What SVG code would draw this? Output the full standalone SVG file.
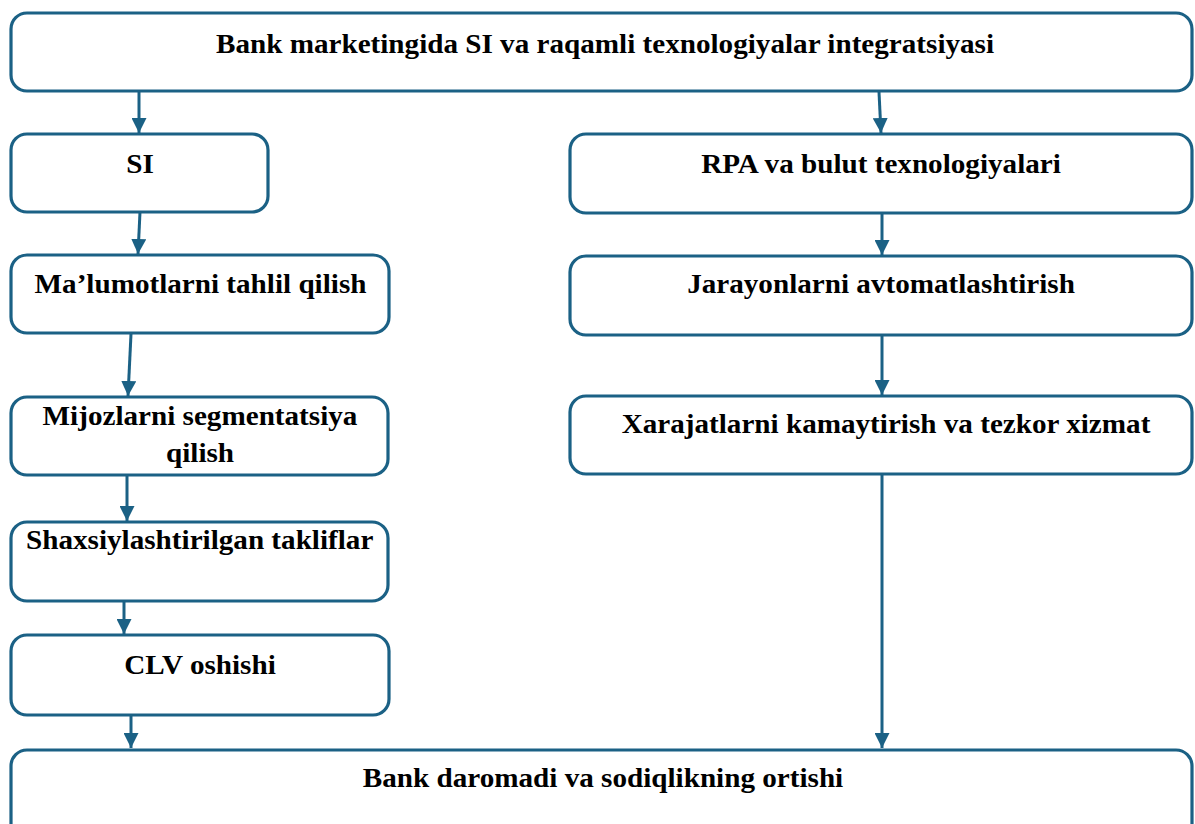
<svg xmlns="http://www.w3.org/2000/svg" width="1195" height="824" viewBox="0 0 1195 824">
<style>
.box{fill:#ffffff;stroke:#1b6185;stroke-width:3.2}
.lbl{font-family:"Liberation Serif","Times New Roman",serif;font-weight:bold;font-size:26.5px;fill:#000;text-anchor:middle}
.con{stroke:#1b6185;stroke-width:3;fill:none;marker-end:url(#ah)}
</style>
<defs>
<marker id="ah" viewBox="0 0 10 10" refX="10" refY="5" markerWidth="5" markerHeight="5" markerUnits="strokeWidth" orient="auto">
<path d="M0,0 L10,5 L0,10 Z" fill="#1b6185"/>
</marker>
</defs>
<rect width="1195" height="824" fill="#ffffff"/>
<g id="connectors">
<line class="con" x1="139" y1="92" x2="139" y2="133"/>
<line class="con" x1="879" y1="92" x2="881" y2="133"/>
<line class="con" x1="140" y1="212" x2="138" y2="254"/>
<line class="con" x1="131" y1="334" x2="128" y2="396"/>
<line class="con" x1="127" y1="476" x2="127" y2="521"/>
<line class="con" x1="124" y1="602" x2="124" y2="634"/>
<line class="con" x1="131" y1="716" x2="131" y2="748"/>
<line class="con" x1="882" y1="214" x2="882" y2="255"/>
<line class="con" x1="882" y1="336" x2="882" y2="395"/>
<line class="con" x1="882" y1="475" x2="882" y2="748"/>
</g>
<g id="n_top">
<rect class="box" x="11" y="13" width="1181" height="78" rx="16"/>
<text class="lbl" transform="translate(605,52.7) scale(1.1,1)">Bank marketingida SI va raqamli texnologiyalar integratsiyasi</text>
</g>
<g id="n_si">
<rect class="box" x="11" y="134" width="257" height="78" rx="16"/>
<text class="lbl" transform="translate(140,173) scale(1.1,1)">SI</text>
</g>
<g id="n_malumot">
<rect class="box" x="11" y="255" width="378" height="78" rx="16"/>
<text class="lbl" transform="translate(200.5,293.3) scale(1.1,1)">Ma’lumotlarni tahlil qilish</text>
</g>
<g id="n_mijoz">
<rect class="box" x="11" y="397" width="377" height="78" rx="16"/>
<text class="lbl" transform="translate(200,425) scale(1.1,1)">Mijozlarni segmentatsiya</text>
<text class="lbl" transform="translate(200,461.7) scale(1.1,1)">qilish</text>
</g>
<g id="n_shaxsiy">
<rect class="box" x="11" y="522" width="377" height="79" rx="16"/>
<text class="lbl" transform="translate(199.7,549.3) scale(1.1,1)">Shaxsiylashtirilgan takliflar</text>
</g>
<g id="n_clv">
<rect class="box" x="11" y="635" width="378" height="80" rx="16"/>
<text class="lbl" transform="translate(200,674.3) scale(1.1,1)">CLV oshishi</text>
</g>
<g id="n_rpa">
<rect class="box" x="570" y="134" width="622" height="79" rx="16"/>
<text class="lbl" transform="translate(881,173) scale(1.1,1)">RPA va bulut texnologiyalari</text>
</g>
<g id="n_jarayon">
<rect class="box" x="570" y="256" width="622" height="79" rx="16"/>
<text class="lbl" transform="translate(881,293) scale(1.1,1)">Jarayonlarni avtomatlashtirish</text>
</g>
<g id="n_xarajat">
<rect class="box" x="570" y="396" width="622" height="78" rx="16"/>
<text class="lbl" transform="translate(886,433) scale(1.1,1)">Xarajatlarni kamaytirish va tezkor xizmat</text>
</g>
<g id="n_bottom">
<rect class="box" x="11" y="750" width="1181" height="90" rx="16"/>
<text class="lbl" transform="translate(603,786.7) scale(1.1,1)">Bank daromadi va sodiqlikning ortishi</text>
</g>
</svg>
